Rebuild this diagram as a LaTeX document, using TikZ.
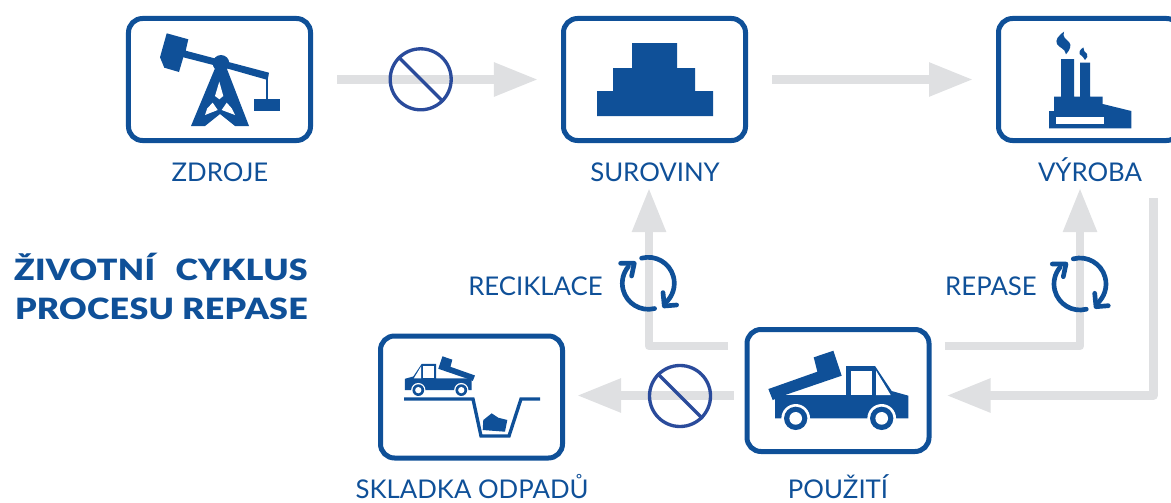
\documentclass[tikz,border=0pt]{standalone}
\usepackage{fontspec}
\setmainfont{Lato}
\newfontfamily\titlefont[FakeStretch=1.16,LetterSpace=1]{Lato Black}
\usetikzlibrary{arrows.meta}
\definecolor{repblue}{HTML}{0F5098}
\definecolor{signblue}{HTML}{2A4B9B}
\definecolor{flowgray}{HTML}{DFE0E2}
\tikzset{
    box/.style = {draw = repblue, line width = 0.15cm, rounded corners = 0.42cm, minimum width = 5.46cm, minimum height = 3.66cm, inner sep = 0pt},
    lbl/.style = {text = repblue, font = \fontsize{22}{24}\selectfont, inner sep = 0pt, anchor = base},
    flow/.style = {draw = flowgray, line width = 0.26cm, line join = round, -{Triangle[length = 1.32cm, width = 0.96cm]}},
    nosign/.style = {circle, draw = signblue, line width = 0.1cm, minimum size = 1.83cm, inner sep = 0pt},
    truck/.pic = {
        \fill[repblue] (-220,7) -- (-73,-45) -- (-84,-88) -- (-25,-108) -- (0,-33) -- (-170,25) -- (-207,40) -- cycle;
        \fill[repblue] (-200,25) -- (13,25) -- (13,-62) -- (100,-62) -- (150,13) -- (200,27) -- (200,95) -- (-200,95) -- cycle;
        \fill[white] (28,-48) rectangle (92,25);
        \fill[white] (103,-48) -- (147,25) -- (103,25) -- cycle;
        \foreach \cx in {-138,120} {
            \fill[white] (\cx,95) circle [radius = 43];
            \fill[repblue] (\cx,95) circle [radius = 35];
            \fill[white] (\cx,95) circle [radius = 19];
        }
    },
    recycle/.pic = {
        \draw[repblue, line width = 0.14cm, line cap = round, line join = round] (-105:26) arc [start angle = -105, end angle = 50, radius = 26];
        \draw[repblue, line width = 0.14cm, line cap = round, line join = round] (14.7,9.3) -- (16,22.7) -- (28.3,21.7);
        \draw[repblue, line width = 0.14cm, line cap = round, line join = round] (76:26) arc [start angle = 76, end angle = 220, radius = 26];
        \draw[repblue, line width = 0.14cm, line cap = round, line join = round] (-27.7,-20) -- (-14,-20) -- (-16.7,-7.3);
    },
}

\begin{document}
\begin{tikzpicture}[x = 0.03cm, y = -0.03cm]
    \useasboundingbox (0,0) rectangle (1171,503);
    \clip (0,0) rectangle (1171,503);
    \node[box] (zdroje) at (219.5,79.5) {};
    \node[box] (suroviny) at (654.5,79.5) {};
    \node[box] (vyroba) at (1089.5,79.5) {};
    \node[box] (skladka) at (471.5,397) {};
    \node[box] (pouziti) at (838,390.5) {};

    \node[lbl] (zdrojelbl) at (220,181.5) {ZDROJE};
    \node[lbl] (surovinylbl) at (655,181.5) {SUROVINY};
    \node[lbl] (vyrobalbl) at (1090,181.5) {VÝROBA};
    \node[lbl] (skladkalbl) at (472,498) {SKLADKA ODPADŮ};
    \node[lbl] (pouzitilbl) at (838,498) {POUŽITÍ};
    \node[lbl] (reciklacelbl) at (535.5,295) {RECIKLACE};
    \node[lbl] (repaselbl) at (991,295) {REPASE};
    \node[lbl, font = \fontsize{25}{33}\selectfont\titlefont, align = right, anchor = north east] (titul) at (308,253) {ŽIVOTNÍ\hspace{0.7em}CYKLUS\\PROCESU REPASE};

    % flows
    \draw[flow, shorten < = 0.72cm, shorten > = 0.69cm] (zdroje) -- (suroviny);
    \draw[flow, shorten < = 0.72cm, shorten > = 0.69cm] (suroviny) -- (vyroba);
    \draw[flow] ([shift = {(-11,5)}]pouziti.west) -- ([shift = {(12,-1.5)}]skladka.east);
    \draw[flow] ([shift = {(-17,19)}]pouziti.north west) -| ([shift = {(-5.5,45)}]suroviny.south);
    \draw[flow] ([shift = {(13,19)}]pouziti.north east) -| ([shift = {(-9.5,45)}]vyroba.south);
    \draw[flow] ([shift = {(64,55)}]vyroba.south) |- ([shift = {(15,5)}]pouziti.east);

    \node[nosign] (zakaz) at (420.7,79.3) {};
    \draw[signblue, line width = 0.1cm] (zakaz.north west) -- (zakaz.south east);
    \node[nosign] (zakazb) at (680,396) {};
    \draw[signblue, line width = 0.1cm] (zakazb.north west) -- (zakazb.south east);

    % pump
    \fill[repblue] (166.7,33.3) -- (188.3,39.3) -- (185.7,50.7) -- (269,72.7) -- (267.7,80) -- (230,69.3) -- (183.3,57.3) -- (179,72) -- (164.3,67.7) -- (160,57.3) -- cycle;
    \fill[repblue] (221,63.3) circle [radius = 8.3];
    \fill[repblue] (215,68.3) -- (226.7,68.3) -- (249,126) -- (235,126) -- (220,114) -- (205,126) -- (191,126) -- cycle;
    \fill[white] (219.3,81.7) -- (223.3,96) -- (219.3,99.3) -- (215,96) -- cycle;
    \fill[white] (207.3,108.3) -- (212.7,102.7) -- (217.7,110) -- (205,115) -- cycle;
    \fill[white] (231.7,108.3) -- (226.7,102.7) -- (221.7,110) -- (235,115) -- cycle;
    \fill[repblue] (265.7,73) rectangle (267.7,100);
    \fill[repblue] (254,99) rectangle (280,110.7);

    % heap
    \fill[repblue] (632,43) -- (677,43) -- (677,68) -- (695,68) -- (695,91) -- (713,91) -- (713,116) -- (597,116) -- (597,91) -- (613,91) -- (613,68) -- (632,68) -- cycle;

    % factory
    \fill[repblue] (1049,128.3) -- (1049,111) -- (1054,111) -- (1054,96.7) -- (1061,96.7) -- (1061,59) -- (1074,59) -- (1074,96.7) -- (1080,96.7) -- (1080,62.7) -- (1090,62.7) -- (1090,96.7) -- (1102.7,96.7) -- (1102.7,104) -- (1131.3,111) -- (1131.3,128.3) -- cycle;
    \fill[white] (1056,116.7) rectangle (1104.3,124);
    \fill[repblue] (1064,31.7) .. controls (1058,36) and (1055,40) .. (1057,44) .. controls (1059,48) and (1065,48) .. (1066,54.3) .. controls (1070,50) and (1072,45) .. (1069,42) .. controls (1066,39) and (1062,37) .. (1064,31.7) -- cycle;
    \fill[repblue] (1083.3,47.3) .. controls (1080,50) and (1078.5,52) .. (1079.5,54) .. controls (1081,56) and (1084.5,57) .. (1085,60) .. controls (1087,58) and (1088.5,56) .. (1087,54) .. controls (1085.5,52) and (1082.5,50.5) .. (1083.3,47.3) -- cycle;

    \pic[scale = 1/3] at (841.7,386.7) {truck};
    \pic[xscale = -1/6, yscale = 1/6] at (438.3,374.3) {truck};

    % pit
    \draw[repblue, line width = 0.1cm] (404,399) -- (473,399) -- (481,436) -- (509,436) -- (521,399) -- (540,399);
    \fill[repblue] (482.7,430) -- (483.3,420) -- (491.7,413.3) -- (498.3,417.7) -- (507.3,420) -- (505,431.7) -- cycle;

    \pic at (648.3,283.3) {recycle};
    \pic at (1080,284) {recycle};
\end{tikzpicture}
\end{document}
